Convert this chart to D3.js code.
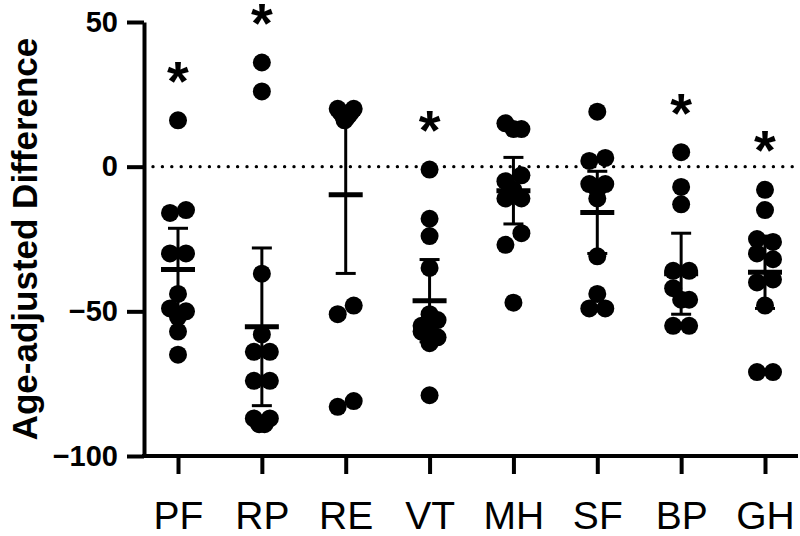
<!DOCTYPE html>
<html><head><meta charset="utf-8">
<script src="https://cdn.jsdelivr.net/npm/d3@7"></script>
<style>
body{margin:0;background:#fff}
text{font-family:"Liberation Sans",Arial,Helvetica,sans-serif;fill:#000}
</style>
</head><body>
<svg id="chart" width="800" height="536"></svg>
<script>
// ---------- data ----------
const categories = ["PF","RP","RE","VT","MH","SF","BP","GH"];
const PF = [16,-16,-15,-30,-30,-44,-49,-52,-50,-57,-65];
const RP = [36,26,-37,-58,-64,-64,-74,-74,-87,-89,-89,-87];
const RE = [20,19,18,16,17,18,19,20,-51,-48,-83,-81];
const VT = [-1,-18,-24,-35,-55,-51,-53,-57,-56,-59,-61,-79];
const MH = [15,13,13,-5,-3,-11,-8,-11,-27,-23,-47];
const SF = [19,2,3,-6,-8,-6,-11,-31,-44,-49,-49];
const BP = [5,-7,-13,-36,-36,-42,-46,-46,-55,-55];
const GH = [-8,-15,-25,-26,-30,-32,-40,-39,-48,-71,-71];
const seriesValues = [PF,RP,RE,VT,MH,SF,BP,GH];
const means   = [-35.5,-55.3,-9.7,-46.3,-8.3,-15.8,-37,-36.5];
const ciUpper = [-21.3,-28.1,17.5,-32.1,3.2,-1.6,-23,-24];
const ciLower = [-49.7,-82.6,-36.9,-60.5,-19.8,-30,-51,-49];
const significance = ["*","*","","*","","","*","*"];
const yTicks = [-100,-50,0,50];
const yTitle = "Age-adjusted Difference";

// ---------- layout ----------
const svg = d3.select("#chart");
const y = d3.scaleLinear().domain([-100,50]).range([456,22]);
const x = d3.scalePoint().domain(categories).range([178,765]);
const R = 9, ROW_H = 13, SPREAD = 8;

function swarm(vals){
  const idx = vals.map((v,i)=>i).sort((a,b)=>vals[b]-vals[a] || a-b);
  const rows = []; let cur = null;
  idx.forEach(i=>{
    const py = y(vals[i]);
    if(!cur || py - cur.start > ROW_H){ cur = {start:py, items:[]}; rows.push(cur); }
    cur.items.push(i);
  });
  const off = new Array(vals.length).fill(0);
  rows.forEach(r=>{
    const it = r.items.slice().sort((a,b)=>a-b), n = it.length;
    it.forEach((i,k)=>{ off[i] = n===1 ? 0 : -SPREAD + 2*SPREAD*k/(n-1); });
  });
  return off;
}

// zero reference line (dotted)
svg.append("line")
  .attr("x1",153).attr("x2",795).attr("y1",y(0)).attr("y2",y(0))
  .attr("stroke","#000").attr("stroke-width",3.4)
  .attr("stroke-linecap","round").attr("stroke-dasharray","0,9.4");

// points
categories.forEach((c,ci)=>{
  const vals = seriesValues[ci];
  const off = swarm(vals);
  svg.append("g").selectAll("circle").data(vals).join("circle")
    .attr("cx",(d,i)=>x(c)+off[i]).attr("cy",d=>y(d)).attr("r",R).attr("fill","#000");
});

// error bars + mean
const eb = svg.append("g").attr("stroke","#000");
categories.forEach((c,ci)=>{
  const cx = x(c);
  eb.append("line").attr("x1",cx).attr("x2",cx).attr("y1",y(ciUpper[ci])).attr("y2",y(ciLower[ci])).attr("stroke-width",3);
  [ciUpper[ci],ciLower[ci]].forEach(v=>{
    eb.append("line").attr("x1",cx-10).attr("x2",cx+10).attr("y1",y(v)).attr("y2",y(v)).attr("stroke-width",3);
  });
  eb.append("line").attr("x1",cx-17).attr("x2",cx+17).attr("y1",y(means[ci])).attr("y2",y(means[ci])).attr("stroke-width",5);
});

// significance asterisks
const AST = 56;
categories.forEach((c,ci)=>{
  if(!significance[ci]) return;
  const top = d3.max(seriesValues[ci]);
  svg.append("text").attr("x",x(c)).attr("y",y(top)-52+0.56*AST)
    .attr("text-anchor","middle").attr("font-size",AST).attr("font-weight","bold")
    .text(significance[ci]);
});

// y axis
const yAxis = svg.append("g").attr("transform","translate(144,0)")
  .call(d3.axisLeft(y).tickValues(yTicks).tickSize(17).tickSizeOuter(0).tickPadding(9).tickFormat(d3.format("d")));
yAxis.select(".domain").attr("stroke-width",4).attr("stroke","#000");
yAxis.selectAll(".tick line").attr("stroke-width",4).attr("stroke","#000");
yAxis.selectAll(".tick text").attr("font-size",29).attr("font-weight","bold")
  .attr("font-family","'Liberation Sans',Arial,sans-serif").attr("fill","#000");

// x axis
const xAxis = svg.append("g").attr("transform",`translate(0,${y(-100)})`)
  .call(d3.axisBottom(x).tickSize(18).tickSizeOuter(0));
xAxis.select(".domain").remove();
xAxis.selectAll(".tick line").attr("stroke-width",4).attr("stroke","#000");
xAxis.selectAll(".tick text").attr("y",73).attr("dy",0).attr("font-size",39)
  .attr("font-family","'Liberation Sans',Arial,sans-serif").attr("fill","#000");
svg.append("line").attr("x1",142).attr("x2",798).attr("y1",y(-100)).attr("y2",y(-100))
  .attr("stroke","#000").attr("stroke-width",4);

// y title
svg.append("text").attr("transform","translate(37,239) rotate(-90)")
  .attr("text-anchor","middle").attr("font-size",35).attr("font-weight","bold").text(yTitle);
</script>
</body></html>
